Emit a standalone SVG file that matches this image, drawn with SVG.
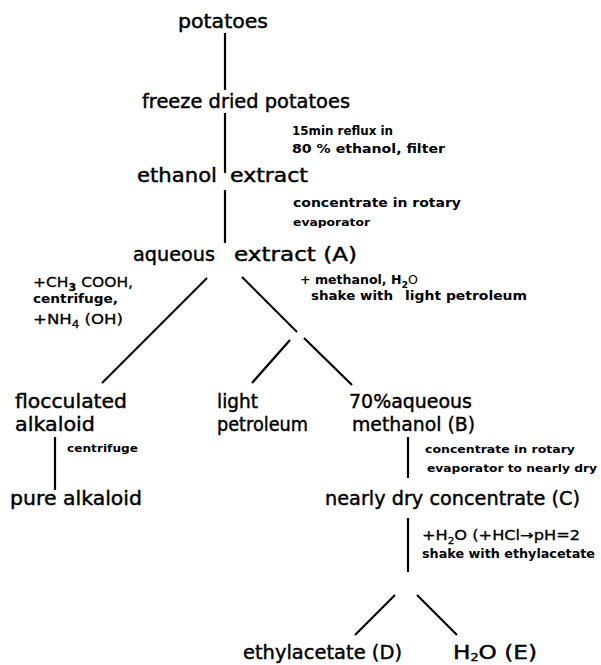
<svg xmlns="http://www.w3.org/2000/svg" width="601" height="665" viewBox="0 0 601 665">
<style>
.m{font-family:"DejaVu Sans","Liberation Sans",sans-serif;font-size:20px;fill:#000;stroke:#000;stroke-width:0.45}
.s{font-family:"DejaVu Sans","Liberation Sans",sans-serif;font-size:12px;font-weight:bold;fill:#000}
.t{font-family:"DejaVu Sans","Liberation Sans",sans-serif;font-size:11px;font-weight:bold;fill:#000}
.r{font-family:"DejaVu Sans","Liberation Sans",sans-serif;font-size:14px;fill:#000;stroke:#000;stroke-width:0.3}
.c line{stroke:#000;stroke-width:2.2;stroke-linecap:butt}
</style>
<rect width="601" height="665" fill="#fff"/>
<g class="c" id="connectors">
<line x1="225" y1="33" x2="225" y2="90"/>
<line x1="225" y1="113" x2="225" y2="173"/>
<line x1="225" y1="190" x2="225" y2="243"/>
<line x1="207" y1="278" x2="102" y2="383"/>
<line x1="242" y1="277" x2="297" y2="332"/>
<line x1="290" y1="340" x2="252" y2="383"/>
<line x1="304" y1="338" x2="352" y2="385"/>
<line x1="55" y1="437" x2="55" y2="490"/>
<line x1="408" y1="437" x2="408" y2="478"/>
<line x1="408" y1="518" x2="408" y2="572"/>
<line x1="395" y1="595" x2="355" y2="635"/>
<line x1="417" y1="595" x2="457" y2="635"/>
</g>
<g id="labels">
<text class="s" x="292" y="135" textLength="101" lengthAdjust="spacingAndGlyphs">15min reflux in</text>
<text class="s" x="292" y="153" textLength="153" lengthAdjust="spacingAndGlyphs">80 % ethanol, filter</text>
<text class="s" x="293" y="207" textLength="168" lengthAdjust="spacingAndGlyphs">concentrate in rotary</text>
<text class="t" x="293" y="226" textLength="77" lengthAdjust="spacingAndGlyphs">evaporator</text>
<text class="r" x="33" y="287" textLength="100" lengthAdjust="spacingAndGlyphs">+CH<tspan dy="4" font-size="10" font-weight="bold">3</tspan><tspan dy="-4"> COOH,</tspan></text>
<text class="s" x="33" y="303" textLength="85" lengthAdjust="spacingAndGlyphs">centrifuge,</text>
<text class="r" x="33" y="324" textLength="90" lengthAdjust="spacingAndGlyphs">+NH<tspan dy="4" font-size="10">4</tspan><tspan dy="-4"> (OH)</tspan></text>
<text class="s" x="300" y="284" textLength="118" lengthAdjust="spacingAndGlyphs">+ methanol, H<tspan dy="4" font-size="9">2</tspan><tspan dy="-4" font-weight="normal">O</tspan></text>
<text class="s" x="311" y="300" textLength="82" lengthAdjust="spacingAndGlyphs">shake with</text>
<text class="s" x="405" y="300" textLength="122" lengthAdjust="spacingAndGlyphs">light petroleum</text>
<text class="t" x="67" y="452" textLength="71" lengthAdjust="spacingAndGlyphs">centrifuge</text>
<text class="t" x="425" y="453" textLength="150" lengthAdjust="spacingAndGlyphs">concentrate in rotary</text>
<text class="t" x="427" y="472" textLength="170" lengthAdjust="spacingAndGlyphs">evaporator to nearly dry</text>
<text class="r" x="422" y="540" textLength="158" lengthAdjust="spacingAndGlyphs">+H<tspan dy="4" font-size="9">2</tspan><tspan dy="-4">O (+HCl→pH=2</tspan></text>
<text class="s" x="422" y="558" textLength="173" lengthAdjust="spacingAndGlyphs">shake with ethylacetate</text>
</g>
<g id="potatoes"><text class="m" x="178" y="28" textLength="90" lengthAdjust="spacingAndGlyphs">potatoes</text></g>
<g id="freeze-dried"><text class="m" x="142" y="108" textLength="208" lengthAdjust="spacingAndGlyphs">freeze dried potatoes</text></g>
<g id="ethanol-extract">
<text class="m" x="137" y="182" textLength="80" lengthAdjust="spacingAndGlyphs">ethanol</text>
<text class="m" x="230" y="182" textLength="78" lengthAdjust="spacingAndGlyphs">extract</text>
</g>
<g id="aqueous-extract">
<text class="m" x="133" y="261" textLength="82" lengthAdjust="spacingAndGlyphs">aqueous</text>
<text class="m" x="234" y="261" textLength="123" lengthAdjust="spacingAndGlyphs">extract (A)</text>
</g>
<g id="flocculated">
<text class="m" x="15" y="408" textLength="112" lengthAdjust="spacingAndGlyphs">flocculated</text>
<text class="m" x="15" y="431" textLength="80" lengthAdjust="spacingAndGlyphs">alkaloid</text>
</g>
<g id="light-petroleum">
<text class="m" x="217" y="408" textLength="41" lengthAdjust="spacingAndGlyphs">light</text>
<text class="m" x="217" y="431" textLength="91" lengthAdjust="spacingAndGlyphs">petroleum</text>
</g>
<g id="aqueous-methanol">
<text class="m" x="349" y="408" textLength="123" lengthAdjust="spacingAndGlyphs">70%aqueous</text>
<text class="m" x="352" y="431" textLength="123" lengthAdjust="spacingAndGlyphs">methanol (B)</text>
</g>
<g id="pure-alkaloid"><text class="m" x="10" y="505" textLength="132" lengthAdjust="spacingAndGlyphs">pure alkaloid</text></g>
<g id="nearly-dry"><text class="m" x="325" y="505" textLength="255" lengthAdjust="spacingAndGlyphs">nearly dry concentrate (C)</text></g>
<g id="ethylacetate"><text class="m" x="243" y="659" textLength="159" lengthAdjust="spacingAndGlyphs">ethylacetate (D)</text></g>
<g id="water"><text class="m" x="453" y="659" textLength="84" lengthAdjust="spacingAndGlyphs">H<tspan dy="2" font-size="11">2</tspan><tspan dy="-2">O (E)</tspan></text></g>
</svg>
